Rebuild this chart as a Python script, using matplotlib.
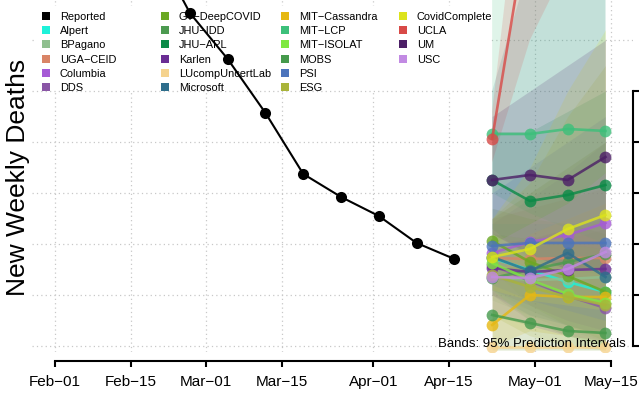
import datetime as dt

import matplotlib
matplotlib.use("Agg")
import matplotlib.pyplot as plt
import matplotlib.dates as mdates
from matplotlib.legend import Legend
from matplotlib.lines import Line2D
from matplotlib.patches import Rectangle

plt.rcParams['font.family'] = ['Liberation Sans', 'DejaVu Sans']

# observed weekly deaths
reported_dates = ["2021-02-05", "2021-02-12", "2021-02-19", "2021-02-26", "2021-03-05",
                  "2021-03-12", "2021-03-19", "2021-03-26", "2021-04-02", "2021-04-09",
                  "2021-04-16"]
reported_deaths = [10800, 9400, 7920, 6529, 5627, 4569, 3373, 2922, 2549, 2020, 1706]

forecast_dates = ["2021-04-23", "2021-04-30", "2021-05-07", "2021-05-14"]

models = ["Alpert", "BPagano", "UGA\u2212CEID", "Columbia", "DDS",
          "GT\u2212DeepCOVID", "JHU\u2212IDD", "JHU\u2212APL", "Karlen", "LUcompUncertLab",
          "Microsoft", "MIT\u2212Cassandra", "MIT\u2212LCP", "MIT\u2212ISOLAT", "MOBS",
          "PSI", "ESG", "CovidComplete", "UCLA", "UM", "USC"]

model_median = [
    [1725, 1490, 1255, 1059],
    [1353, 1294, 1314, 1353],
    [1725, 1706, 1725, 1725],
    [1824, 2039, 2176, 2412],
    [1588, 1275, 980, 745],
    [2059, 1647, 1373, 1059],
    [1333, 1490, 1647, 1804],
    [3255, 2843, 2961, 3157],
    [1529, 1451, 1490, 1510],
    [-15, -15, -15, -15],
    [1745, 1471, 1824, 1353],
    [412, 1000, 961, 961],
    [4157, 4157, 4255, 4216],
    [1627, 1294, 1020, 843],
    [608, 451, 294, 255],
    [1961, 2020, 2020, 2020],
    [1392, 1157, 961, 804],
    [1745, 1902, 2294, 2569],
    [4059, 8550, 10500, 12000],
    [3255, 3353, 3255, 3706],
    [1353, 1333, 1510, 1843],
]

model_lower = [
    [1100, 700, 400, 200],
    [900, 600, 300, 100],
    [1000, 700, 400, 200],
    [1300, 1200, 1000, 900],
    [1000, 500, 200, 0],
    [1500, 800, 400, 100],
    [600, 400, 200, 100],
    [2300, 1700, 1500, 1400],
    [1100, 800, 500, 300],
    [-80, -80, -80, -80],
    [1000, 600, 400, 200],
    [0, 300, 200, 100],
    [3000, 2600, 2300, 2000],
    [1100, 500, 200, 0],
    [-80, -80, -80, -80],
    [1200, 900, 700, 500],
    [600, 200, 0, -80],
    [1100, 900, 800, 700],
    [3600, 6000, 7500, 8500],
    [2200, 1800, 1500, 1500],
    [700, 400, 200, 100],
]

model_upper = [
    [2400, 2400, 2400, 2500],
    [1800, 1900, 2100, 2300],
    [2500, 2700, 2900, 3100],
    [2400, 2900, 3400, 4000],
    [2200, 2100, 2000, 1900],
    [2700, 2500, 2400, 2200],
    [2500, 3000, 3500, 4000],
    [4200, 4200, 4600, 5000],
    [2000, 2100, 2300, 2500],
    [2500, 3000, 3500, 4000],
    [5000, 7500, 9000, 10000],
    [1200, 2200, 2500, 2800],
    [8000, 9000, 10000, 11000],
    [2200, 2100, 2000, 1900],
    [1500, 1600, 1700, 1800],
    [3000, 3500, 4000, 4500],
    [2500, 3200, 4500, 5500],
    [2500, 3500, 5000, 6200],
    [4600, 11000, 14000, 16000],
    [4500, 5000, 5500, 6000],
    [2000, 2400, 2800, 3400],
]

model_colors = ["#1EF2DA", "#8FBF8F", "#D98466", "#A65BD6", "#8A56A6",
                "#6AA823", "#4C9A50", "#0A8A46", "#6A2D94", "#F5D38E",
                "#2E6E8C", "#E6B812", "#3CC07A", "#7FE840", "#459A4C",
                "#4C74BC", "#A9B43A", "#DCE31C", "#D84A47", "#4C1F66", "#C28AE3"]

x_tick_dates = ["2021-02-01", "2021-02-15", "2021-03-01", "2021-03-15",
                "2021-04-01", "2021-04-15", "2021-05-01", "2021-05-15"]
x_tick_labels = ["Feb\u221201", "Feb\u221215", "Mar\u221201", "Mar\u221215",
                 "Apr\u221201", "Apr\u221215", "May\u221201", "May\u221215"]
y_ticks = [0, 1000, 2000, 3000, 4000, 5000]
y_grid = [0, 1000, 2000, 3000, 4000, 5000, 6000]


def to_num(dates):
    return [mdates.date2num(dt.datetime.strptime(d, "%Y-%m-%d")) for d in dates]


W, H = 639, 396


def fx(px):
    return px / W


def fy(py):
    return 1 - py / H


fig = plt.figure(figsize=(W / 100, H / 100), dpi=100)
ax = fig.add_axes([fx(32), fy(352), fx(633) - fx(32), fy(0) - fy(352)])

x_rep = to_num(reported_dates)
x_fc = to_num(forecast_dates)
x_ticks = to_num(x_tick_dates)

ax.set_xlim(x_ticks[0] - 4.26, x_ticks[0] + 107.1)
ax.set_ylim(-118, 6784)

# grid
for g in y_grid:
    ax.axhline(g, color="#C8C8C8", lw=0.9, ls=(0, (1, 2.5)), zorder=0.5)
for t in x_ticks:
    ax.axvline(t, color="#C8C8C8", lw=0.9, ls=(0, (1, 2.5)), zorder=0.5)

# white legend box
ax.add_patch(Rectangle((fx(36), fy(90)), fx(490) - fx(36), fy(6) - fy(90),
                       transform=fig.transFigure, facecolor="white",
                       edgecolor="none", zorder=1))

# prediction bands
for lo, hi, c in zip(model_lower, model_upper, model_colors):
    ax.fill_between(x_fc, lo, hi, color=c, alpha=0.16, lw=0, zorder=2)

# forecasts
for med, c in zip(model_median, model_colors):
    ax.plot(x_fc, med, color=c, lw=1.9, alpha=0.8, marker="o", markersize=8.5,
            markeredgewidth=0, zorder=3)

# reported
ax.plot(x_rep, reported_deaths, color="black", lw=1.5, marker="o", markersize=8,
        markeredgewidth=0, zorder=4)

# axes styling
for s in ["left", "top"]:
    ax.spines[s].set_visible(False)
ax.spines["bottom"].set_position(("outward", 6.5))
ax.spines["bottom"].set_bounds(x_ticks[0], x_ticks[-1])
ax.spines["bottom"].set_linewidth(1.5)
ax.spines["right"].set_bounds(y_ticks[0], y_ticks[-1])
ax.spines["right"].set_linewidth(1.5)

ax.set_xticks(x_ticks)
ax.set_xticklabels(x_tick_labels)
ax.tick_params(axis="x", length=4, width=1.5, labelsize=11, pad=6)
ax.yaxis.tick_right()
ax.set_yticks(y_ticks)
ax.tick_params(axis="y", length=4, width=1.5, labelright=False)

# legend in four columns
names = ["Reported"] + models
colors = ["black"] + model_colors
col_left = [41, 160, 280, 398]
for i, x0 in enumerate(col_left):
    idx = range(i * 6, min(i * 6 + 6, len(names)))
    handles = [Line2D([], [], marker="s", ls="none", markersize=6, markeredgewidth=0,
                      color=colors[k]) for k in idx]
    leg = Legend(ax, handles, [names[k] for k in idx], loc="upper left",
                 bbox_to_anchor=(fx(x0), fy(12)), bbox_transform=fig.transFigure,
                 frameon=False, fontsize=7.9, handlelength=1.0, handletextpad=0.72,
                 labelspacing=0.38, borderpad=0, borderaxespad=0)
    leg.set_zorder(1.5)
    ax.add_artist(leg)

fig.text(fx(18), fy(177), "New Weekly Deaths", rotation=90, fontsize=19,
         ha="center", va="center")
ax.text(fx(626), fy(344), "Bands: 95% Prediction Intervals", transform=fig.transFigure,
        fontsize=9.5, ha="right", va="center", zorder=5)

fig.savefig("out.png", dpi=100)
